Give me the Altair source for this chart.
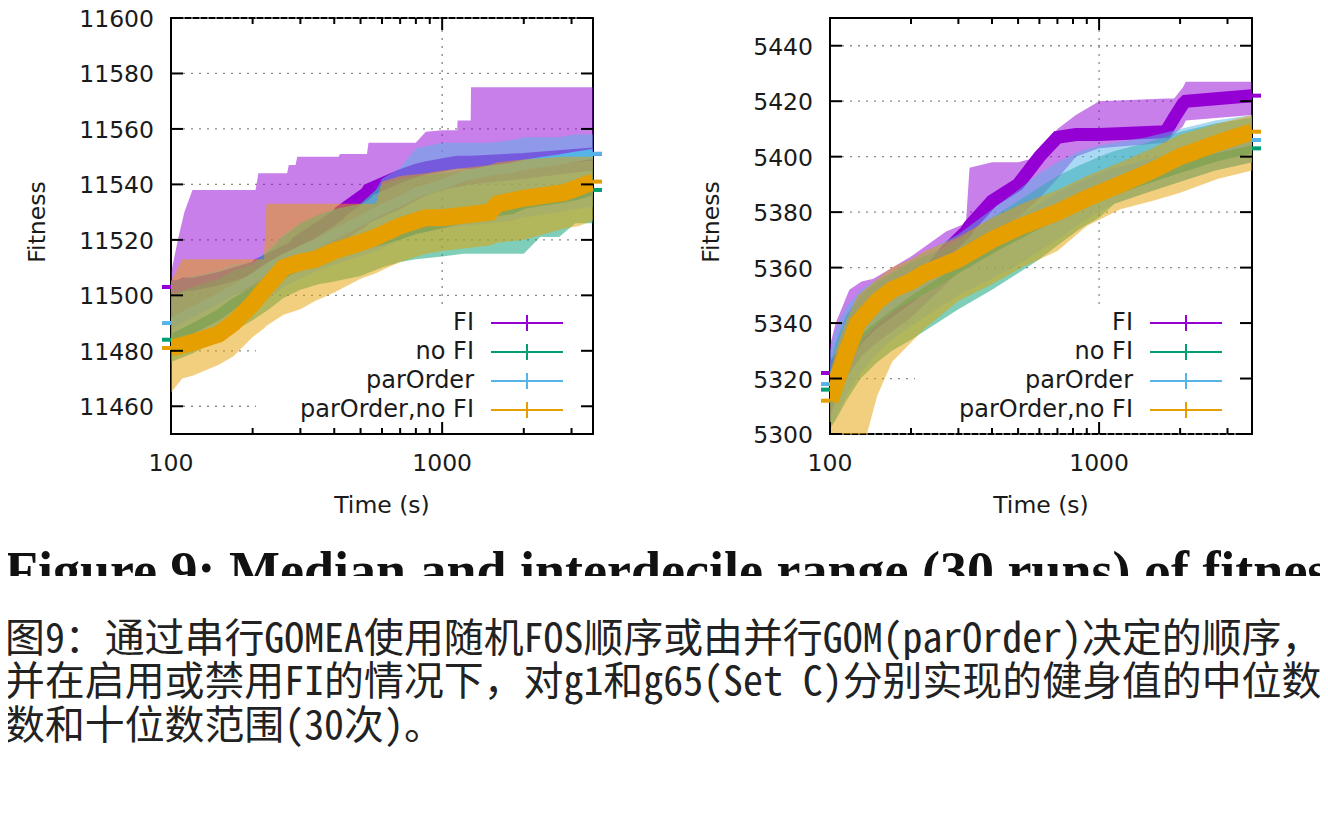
import altair as alt
import pandas as pd

# ---------------- data ----------------
NAMES = ["FI", "no FI", "parOrder", "parOrder,no FI"]
COLORS = ["#9400d3", "#009e73", "#56b4e9", "#e69f00"]

# ---- panel g1 ----
G1_FI_T = [100, 106, 112, 120, 150, 205, 210, 268, 272, 288, 292, 415, 420, 528, 535, 700, 799, 871, 1000, 1136, 1140, 1274, 1278, 2000, 3600]
G1_FI_HI = [11508, 11520, 11530, 11538, 11538, 11538, 11544, 11544, 11547, 11547, 11550, 11550, 11551, 11551, 11555, 11555, 11555, 11559, 11559.5, 11559.5, 11563, 11563, 11575, 11575, 11575]
G1_FI_MED = [11503, 11503, 11504, 11504, 11506, 11510, 11511, 11516, 11516, 11518, 11519, 11529, 11530, 11537, 11538, 11543, 11545, 11546, 11547, 11548, 11548, 11548, 11548, 11549, 11551]
G1_FI_LO = [11490, 11492, 11493, 11494, 11498, 11503, 11504, 11509, 11509, 11511, 11511, 11518, 11519, 11525, 11526, 11531, 11534, 11536, 11538, 11539, 11539, 11540, 11540, 11542, 11545]

G1_NF_T = [100, 120, 150, 170, 200, 230, 260, 300, 350, 400, 500, 600, 700, 800, 1000, 1200, 1500, 1800, 2000, 2300, 2700, 3100, 3600]
G1_NF_HI = [11500, 11503, 11506, 11509, 11511, 11516, 11521, 11526, 11529, 11531, 11533, 11540, 11542, 11543, 11544, 11545, 11546, 11547, 11548, 11549, 11549, 11550, 11550]
G1_NF_MED = [11484, 11488, 11493, 11497, 11501, 11505, 11508, 11511, 11513, 11515, 11518, 11520, 11522, 11524, 11526, 11528, 11530, 11531, 11533, 11534, 11535, 11536, 11538]
G1_NF_LO = [11476, 11479, 11484, 11487, 11491, 11495, 11499, 11502, 11504, 11505, 11507, 11510, 11512, 11513, 11514, 11515, 11515, 11515, 11515, 11521, 11521, 11526, 11526]

G1_PO_T = [100, 120, 150, 170, 200, 230, 260, 300, 350, 400, 500, 570, 600, 700, 800, 1000, 1200, 1500, 1800, 2000, 2300, 2700, 3100, 3600]
G1_PO_HI = [11505, 11507, 11509, 11511, 11512, 11517, 11522, 11526, 11529, 11531, 11533, 11538, 11542, 11546, 11553, 11555, 11555, 11555, 11556, 11557, 11557, 11557, 11558, 11558]
G1_PO_MED = [11490, 11494, 11499, 11502, 11506, 11510, 11513, 11516, 11519, 11522, 11527, 11530, 11531, 11534, 11537, 11540, 11543, 11545, 11546, 11547, 11548, 11549, 11550, 11551]
G1_PO_LO = [11480, 11484, 11488, 11491, 11495, 11499, 11503, 11506, 11509, 11511, 11514, 11516, 11517, 11520, 11522, 11524, 11525, 11526, 11527, 11528, 11529, 11530, 11531, 11532]

G1_PN_T = [100, 110, 120, 150, 170, 200, 220, 225, 260, 300, 340, 400, 500, 570, 600, 700, 870, 1000, 1500, 1600, 2000, 2800, 3200, 3600]
G1_PN_HI = [11505, 11513, 11513, 11513, 11513, 11513, 11513, 11533, 11533, 11533, 11533, 11533, 11533, 11533, 11541, 11543, 11544, 11545, 11547, 11548, 11549, 11550, 11550, 11550]
G1_PN_MED = [11481, 11482, 11483, 11486, 11490, 11497, 11502, 11503, 11510, 11512, 11513, 11516, 11519, 11521, 11522, 11525, 11528, 11528, 11530, 11533, 11535, 11537, 11539, 11541]
G1_PN_LO = [11465, 11470, 11471, 11475, 11478, 11485, 11488, 11489, 11493, 11495, 11498, 11501, 11506, 11508, 11509, 11512, 11515, 11516, 11518, 11519, 11520, 11524, 11525, 11527]

# ---- panel g65 ----
G65_FI_T = [100, 105, 118, 131, 145, 200, 270, 320, 330, 400, 500, 600, 700, 820, 1000, 1770, 1900, 2050, 2100, 3700]
G65_FI_HI = [5332, 5340, 5352, 5355, 5356, 5364, 5373, 5376, 5396, 5398, 5398, 5400, 5410, 5415, 5420, 5421, 5421, 5425, 5427, 5427]
G65_FI_MED = [5322, 5325, 5331, 5336, 5340, 5350, 5366, 5373, 5375, 5384, 5390, 5400, 5407, 5408, 5408, 5409, 5414, 5419, 5420, 5422]
G65_FI_LO = [5306, 5312, 5322, 5328, 5332, 5342, 5354, 5361, 5362, 5370, 5378, 5385, 5392, 5400, 5403, 5405, 5408, 5411, 5413, 5415]

G65_NF_T = [100, 105, 115, 130, 150, 170, 200, 250, 300, 400, 500, 600, 700, 850, 1000, 1140, 1500, 2000, 2700, 3700]
G65_NF_HI = [5325, 5333, 5343, 5350, 5355, 5358, 5362, 5366, 5370, 5378, 5384, 5389, 5393, 5397, 5400, 5402, 5405, 5409, 5412, 5414]
G65_NF_MED = [5316, 5320, 5328, 5336, 5342, 5346, 5350, 5355, 5360, 5367, 5372, 5376, 5379, 5383, 5386, 5388, 5392, 5396, 5400, 5403]
G65_NF_LO = [5302, 5305, 5312, 5320, 5326, 5330, 5334, 5340, 5345, 5352, 5358, 5363, 5368, 5374, 5378, 5383, 5387, 5391, 5395, 5398]

G65_PO_T = [100, 105, 115, 130, 150, 170, 200, 250, 300, 400, 500, 600, 700, 850, 1000, 1140, 1500, 2000, 2700, 3700]
G65_PO_HI = [5330, 5338, 5346, 5352, 5356, 5359, 5363, 5368, 5372, 5381, 5388, 5394, 5398, 5402, 5404, 5405, 5407, 5410, 5413, 5415]
G65_PO_MED = [5318, 5322, 5330, 5338, 5343, 5347, 5352, 5358, 5363, 5370, 5376, 5381, 5385, 5389, 5392, 5394, 5397, 5400, 5403, 5406]
G65_PO_LO = [5302, 5306, 5314, 5322, 5329, 5334, 5339, 5345, 5350, 5356, 5361, 5366, 5370, 5376, 5380, 5383, 5387, 5391, 5395, 5398]

G65_PN_T = [100, 105, 114, 127, 150, 170, 200, 225, 300, 400, 515, 700, 900, 1200, 1575, 2000, 2770, 3700]
G65_PN_HI = [5322, 5330, 5340, 5350, 5356, 5360, 5363, 5366, 5371, 5378, 5383, 5388, 5393, 5398, 5403, 5408, 5412, 5415]
G65_PN_MED = [5312, 5318, 5328, 5340, 5348, 5352, 5355, 5358, 5363, 5370, 5375, 5380, 5385, 5390, 5395, 5400, 5405, 5409]
G65_PN_LO = [5285, 5285, 5285, 5288, 5314, 5326, 5333, 5338, 5348, 5354, 5360, 5366, 5375, 5381, 5384, 5387, 5392, 5395]

G1_YTICKS = [11460, 11480, 11500, 11520, 11540, 11560, 11580, 11600]
G65_YTICKS = [5300, 5320, 5340, 5360, 5380, 5400, 5420, 5440]
X_MAJOR = [100, 1000]
X_MINOR = [200, 300, 400, 500, 600, 700, 800, 900, 2000, 3000]

CAPTION_EN = "Figure 9: Median and interdecile range (30 runs) of fitness"
CAPTION_ZH = [
    "图9：通过串行GOMEA使用随机FOS顺序或由并行GOM(parOrder)决定的顺序，",
    "并在启用或禁用FI的情况下，对g1和g65(Set C)分别实现的健身值的中位数",
    "数和十位数范围(30次)。",
]

# ---------------- chart ----------------
W, H = 422, 416
FONT = "DejaVu Sans"
TXT = "#1a1a1a"
MED_WIDTH = [13, 10, 10, 17]


def frame(t, lo, med, hi):
    return pd.DataFrame({"t": t, "lo": lo, "med": med, "hi": hi})


def panel(series, xdom, ydom, yticks, ytitle_x):
    xs = alt.Scale(type="log", domain=xdom, nice=False)
    ys = alt.Scale(domain=ydom, nice=False, zero=False)
    X = lambda f: alt.X(f, scale=xs, axis=None)
    Y = lambda f: alt.Y(f, scale=ys, axis=None)
    layers = []
    gy = pd.DataFrame({"v": yticks})
    gx = pd.DataFrame({"v": [1000]})
    gmaj = pd.DataFrame({"v": X_MAJOR})
    gmin = pd.DataFrame({"v": [v for v in X_MINOR if v < xdom[1]]})
    grid = dict(stroke="#8a8a8a", strokeWidth=1.3, strokeDash=[2, 6])
    layers.append(alt.Chart(gy).mark_rule(**grid).encode(
        y=Y("v:Q"), x=alt.value(12), x2=alt.value(W - 12)))
    layers.append(alt.Chart(gx).mark_rule(**grid).encode(
        x=X("v:Q"), y=alt.value(12), y2=alt.value(H - 12)))
    # key background
    layers.append(alt.Chart(pd.DataFrame({"k": [0]})).mark_rect(color="white").encode(
        x=alt.value(85), x2=alt.value(W - 8), y=alt.value(289), y2=alt.value(H - 8)))
    for (df, color, mw) in zip(series, COLORS, MED_WIDTH):
        layers.append(alt.Chart(df).mark_area(color=color, fillOpacity=0.5, clip=True).encode(
            x=X("t:Q"), y=Y("lo:Q"), y2="hi:Q"))
        layers.append(alt.Chart(df).mark_line(color=color, strokeWidth=mw, clip=True).encode(
            x=X("t:Q"), y=Y("med:Q")))
    # median end markers poking out of the frame
    for (df, color) in zip(series, COLORS):
        first = df.iloc[[0]]
        last = df.iloc[[-1]]
        layers.append(alt.Chart(first).mark_rule(color=color, strokeWidth=4).encode(
            y=Y("med:Q"), x=alt.value(-9), x2=alt.value(0)))
        layers.append(alt.Chart(last).mark_rule(color=color, strokeWidth=4).encode(
            y=Y("med:Q"), x=alt.value(W), x2=alt.value(W + 9)))
    tick = dict(color="black", strokeWidth=2)
    layers.append(alt.Chart(gy).mark_rule(**tick).encode(y=Y("v:Q"), x=alt.value(0), x2=alt.value(12)))
    layers.append(alt.Chart(gy).mark_rule(**tick).encode(y=Y("v:Q"), x=alt.value(W - 12), x2=alt.value(W)))
    layers.append(alt.Chart(gmaj).mark_rule(**tick).encode(x=X("v:Q"), y=alt.value(H - 12), y2=alt.value(H)))
    layers.append(alt.Chart(gmaj).mark_rule(**tick).encode(x=X("v:Q"), y=alt.value(0), y2=alt.value(12)))
    layers.append(alt.Chart(gmin).mark_rule(**tick).encode(x=X("v:Q"), y=alt.value(H - 6), y2=alt.value(H)))
    layers.append(alt.Chart(gmin).mark_rule(**tick).encode(x=X("v:Q"), y=alt.value(0), y2=alt.value(6)))
    # tick labels and axis titles
    lab = dict(font=FONT, fontSize=23.5, color=TXT)
    layers.append(alt.Chart(gy).mark_text(align="right", baseline="middle", dy=2, **lab).encode(
        y=Y("v:Q"), x=alt.value(-17), text=alt.Text("v:Q", format="d")))
    layers.append(alt.Chart(gmaj).mark_text(align="center", baseline="middle", **lab).encode(
        x=X("v:Q"), y=alt.value(H + 30), text=alt.Text("v:Q", format="d")))
    layers.append(alt.Chart(pd.DataFrame({"s": ["Fitness"]})).mark_text(
        align="center", baseline="middle", angle=270, **lab).encode(
        text="s:N", x=alt.value(ytitle_x), y=alt.value(H / 2 - 4)))
    layers.append(alt.Chart(pd.DataFrame({"s": ["Time (s)"]})).mark_text(
        align="center", baseline="middle", **lab).encode(
        text="s:N", x=alt.value(W / 2), y=alt.value(H + 72)))
    # key
    for i, (name, color) in enumerate(zip(NAMES, COLORS)):
        yy = 305 + 29 * i
        kd = pd.DataFrame({"name": [name]})
        layers.append(alt.Chart(kd).mark_text(
            font=FONT, fontSize=24, color=TXT, align="right", baseline="middle").encode(
            text="name:N", x=alt.value(303), y=alt.value(yy)))
        layers.append(alt.Chart(kd).mark_rule(color=color, strokeWidth=2).encode(
            x=alt.value(320), x2=alt.value(392), y=alt.value(yy)))
        layers.append(alt.Chart(kd).mark_rule(color=color, strokeWidth=2).encode(
            x=alt.value(356), y=alt.value(yy - 8), y2=alt.value(yy + 8)))
    return alt.layer(*layers).properties(
        width=W, height=H, view=alt.ViewBackground(stroke="black", strokeWidth=2))


left = panel(
    [frame(G1_FI_T, G1_FI_LO, G1_FI_MED, G1_FI_HI),
     frame(G1_NF_T, G1_NF_LO, G1_NF_MED, G1_NF_HI),
     frame(G1_PO_T, G1_PO_LO, G1_PO_MED, G1_PO_HI),
     frame(G1_PN_T, G1_PN_LO, G1_PN_MED, G1_PN_HI)],
    [100, 3600], [11450, 11600], G1_YTICKS, -133)

right = panel(
    [frame(G65_FI_T, G65_FI_LO, G65_FI_MED, G65_FI_HI),
     frame(G65_NF_T, G65_NF_LO, G65_NF_MED, G65_NF_HI),
     frame(G65_PO_T, G65_PO_LO, G65_PO_MED, G65_PO_HI),
     frame(G65_PN_T, G65_PN_LO, G65_PN_MED, G65_PN_HI)],
    [100, 3700], [5300, 5450], G65_YTICKS, -118)

one = pd.DataFrame({"k": [0]})
cap_layers = [
    alt.Chart(pd.DataFrame({"s": [CAPTION_EN]})).mark_text(
        font="Liberation Serif", fontWeight="bold", fontSize=54, color="#111",
        align="left", baseline="alphabetic").encode(
        text="s:N", x=alt.value(-166), y=alt.value(135)),
    alt.Chart(one).mark_rect(color="white").encode(
        x=alt.value(-166), x2=alt.value(1150), y=alt.value(122), y2=alt.value(152)),
]
for i, line in enumerate(CAPTION_ZH):
    cap_layers.append(
        alt.Chart(pd.DataFrame({"s": [line]})).mark_text(
            font="Noto Sans Mono CJK SC", fontSize=39.9, color="#222",
            align="left", baseline="middle").encode(
            text="s:N", x=alt.value(-166), y=alt.value([186, 229, 273][i]))
    )
caption = alt.layer(*cap_layers).properties(
    width=W, height=290, view=alt.ViewBackground(stroke=None))

# page positions: left plot frame at (171, 18); svg spans page x 8..1320, y 8..820
chart = alt.concat(
    left, right, caption, columns=2, bounds="flush", align="each",
    spacing={"row": 20, "column": 237},
).properties(
    autosize=alt.AutoSizeParams(type="none"),
    padding={"left": 163, "top": 10, "right": 1149, "bottom": 802},
    background="white",
).configure_view(stroke=None)

chart.save("out.html", embed_options={"renderer": "svg", "actions": False})
